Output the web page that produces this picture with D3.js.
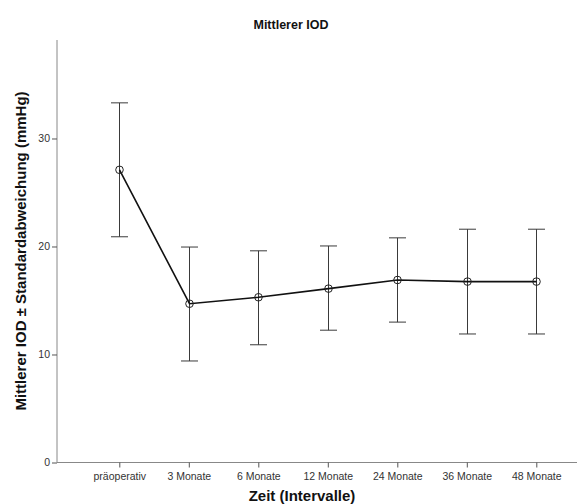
<!DOCTYPE html>
<html><head><meta charset="utf-8">
<script src="https://cdn.jsdelivr.net/npm/d3@7"></script>
<style>body{margin:0;background:#fff}svg{display:block}text{font-family:"Liberation Sans",Arial,sans-serif}</style>
</head><body><svg id="c" width="584" height="504"></svg>
<script>
const categories = ["präoperativ","3 Monate","6 Monate","12 Monate","24 Monate","36 Monate","48 Monate"];
const means = [27.1, 14.7, 15.3, 16.1, 16.9, 16.75, 16.75];
const upper = [33.3, 19.95, 19.6, 20.05, 20.8, 21.6, 21.6];
const lower = [20.9, 9.4, 10.9, 12.25, 13.0, 11.9, 11.9];
const yTicks = [0, 10, 20, 30];
const title = "Mittlerer IOD";
const xLabel = "Zeit (Intervalle)";
const yLabel = "Mittlerer IOD ± Standardabweichung (mmHg)";

const svg = d3.select("#c");
const axisX = 57, axisBottom = 462.5, axisTop = 40, axisRight = 577;
const x = d3.scalePoint().domain(categories).range([119.3, 536.3]);
const y = d3.scaleLinear().domain([0, 39.12]).range([axisBottom, axisTop]);

// axes
const gy = svg.append("g").attr("transform", `translate(${axisX},0)`)
  .call(d3.axisLeft(y).tickValues(yTicks).tickSize(5).tickPadding(2).tickFormat(d3.format("d")));
gy.select(".domain").attr("d", `M0,${axisTop}V${axisBottom}`);
const gx = svg.append("g").attr("transform", `translate(0,${axisBottom})`)
  .call(d3.axisBottom(x).tickSize(5).tickPadding(5));
gx.select(".domain").attr("d", `M${axisX},0H${axisRight}`);
[gx, gy].forEach(g => {
  g.select(".domain").attr("stroke", "#888").attr("stroke-width", 1);
  g.selectAll(".tick line").attr("stroke", "#555");
  g.selectAll(".tick text").attr("fill", "#333").style("font-size", "10.5px")
    .style("font-family", '"Liberation Sans",Arial,sans-serif');
});

// error bars
const idx = d3.range(categories.length);
const eb = svg.append("g").attr("stroke", "#3a3a3a").attr("stroke-width", 1).attr("fill", "none");
idx.forEach(i => {
  const cx = Math.round(x(categories[i])) + 0.5;
  eb.append("line").attr("x1", cx).attr("x2", cx).attr("y1", y(upper[i])).attr("y2", y(lower[i]));
  eb.append("line").attr("x1", cx - 8.5).attr("x2", cx + 8.5).attr("y1", y(upper[i])).attr("y2", y(upper[i]));
  eb.append("line").attr("x1", cx - 8.5).attr("x2", cx + 8.5).attr("y1", y(lower[i])).attr("y2", y(lower[i]));
});

// mean line
svg.append("path").datum(idx)
  .attr("d", d3.line().x(i => Math.round(x(categories[i])) + 0.5).y(i => y(means[i])))
  .attr("fill", "none").attr("stroke", "#111").attr("stroke-width", 1.6);
svg.append("g").selectAll("circle").data(idx).join("circle")
  .attr("cx", i => Math.round(x(categories[i])) + 0.5).attr("cy", i => y(means[i])).attr("r", 3.8)
  .attr("fill", "none").attr("stroke", "#222").attr("stroke-width", 1);

// labels
svg.append("text").attr("x", 291).attr("y", 28.5).attr("text-anchor", "middle")
  .style("font-size", "12.5px").style("font-weight", "bold").attr("fill", "#111").text(title);
svg.append("text").attr("x", 302).attr("y", 501).attr("text-anchor", "middle")
  .style("font-size", "15px").style("font-weight", "bold").attr("fill", "#111").text(xLabel);
svg.append("text").attr("transform", "translate(26,251) rotate(-90)").attr("text-anchor", "middle")
  .style("font-size", "15px").style("font-weight", "bold").attr("fill", "#111").text(yLabel);
</script></body></html>
